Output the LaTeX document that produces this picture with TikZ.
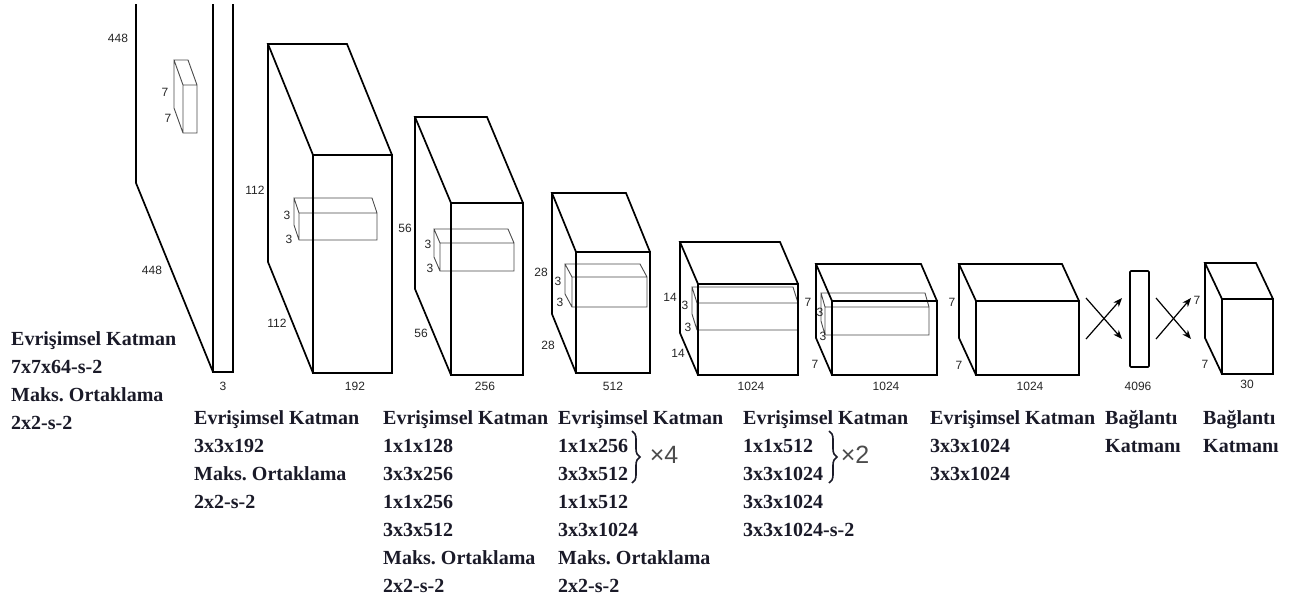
\documentclass[tikz,border=0pt]{standalone}
\usepackage{fontspec}
\setmainfont{Liberation Serif}
\newfontfamily\dimfont{Liberation Sans}
\usetikzlibrary{arrows.meta,decorations.pathreplacing}
\definecolor{ink}{HTML}{1A1A28}
\definecolor{kerngray}{HTML}{4A4A4A}
\tikzset{
  >={Stealth[length=9pt,width=7pt]},
  cube/.style={line width=1.7pt, line join=miter},
  kernel/.style={line width=.9pt, draw=kerngray},
  dimlabel/.style={font=\dimfont\fontsize{12}{12}\selectfont, inner sep=0pt, text=black!85},
  layertext/.style={font=\bfseries\fontsize{20}{28}\selectfont, align=left, anchor=north west, inner sep=0pt, text=ink},
  repeatbrace/.style={decorate, decoration={brace, amplitude=8pt}, line width=1.6pt, draw=ink},
  repeattext/.style={font=\dimfont\fontsize{25}{25}\selectfont, text=black!70, inner sep=0pt},
  fcarrow/.style={->, line width=1.2pt},
  fcbar/.style={draw, line width=1.7pt, rounded corners=1pt, minimum width=19pt, minimum height=96pt, inner sep=0pt}
}
\frenchspacing
% front face left, right, top, bottom, then depth to the back (up-left)
\newcommand{\boxthree}[7][cube]{%
  \draw[#1] (#2,#4) rectangle (#3,#5)
    (#2,#4) -- (#2-#6,#4-#7) -- (#3-#6,#4-#7) -- (#3,#4)
    (#2-#6,#4-#7) -- (#2-#6,#5-#7) -- (#2,#5);}

\begin{document}
\begin{tikzpicture}[x=1pt,y=-1pt]
  \useasboundingbox (0,0) rectangle (1301,605);
  \fill[white] (0,0) rectangle (1301,605);

  % kernels
  \boxthree[kernel]{183}{197}{85}{133}{9}{25}
  \boxthree[kernel]{299}{377}{213}{240}{5}{15}
  \boxthree[kernel]{440}{514}{243}{271}{6}{14}
  \boxthree[kernel]{572}{647}{277}{307}{7}{13}
  \boxthree[kernel]{697}{798}{303}{330}{5}{16}
  \boxthree[kernel]{825}{929}{307}{335}{4}{14}

  % layers
  \begin{scope}
    \clip (0,4) rectangle (1301,605);
    \boxthree{213}{233}{-2}{372}{77}{189}
  \end{scope}
  \boxthree{313}{392}{155}{373}{45}{111}
  \boxthree{451}{523}{203}{375}{36}{86}
  \boxthree{576}{650}{252}{373}{24}{59}
  \boxthree{698}{798}{284}{375}{18}{42}
  \boxthree{832}{937}{301}{375}{16}{37}
  \boxthree{976}{1079}{301}{375}{17}{37}
  \node[fcbar] (fc1) at (1139.5,319) {};
  \boxthree{1222}{1273}{299}{374}{17}{36}

  % fully connected arrows
  \coordinate (xa1) at (1086,339); \coordinate (xb1) at (1122,298);
  \coordinate (xa2) at (1086,298); \coordinate (xb2) at (1122,339);
  \coordinate (ya1) at (1156,339); \coordinate (yb1) at (1191,298);
  \coordinate (ya2) at (1156,298); \coordinate (yb2) at (1191,339);
  \draw[fcarrow] (xa1) -- (xb1);
  \draw[fcarrow] (xa2) -- (xb2);
  \draw[fcarrow] (ya1) -- (yb1);
  \draw[fcarrow] (ya2) -- (yb2);

  % sizes
  \foreach \t/\x/\y [count=\i] in {448/118/38, 448/152/270, 3/223/386, 7/165/92, 7/168/118,
      112/255/190, 112/277/323, 192/355/386, 3/287/215, 3/289/239,
      56/405/228, 56/421/333, 256/485/386, 3/428/244, 3/430/268,
      28/541/272, 28/548/345, 512/613/386, 3/558/281, 3/560/302,
      14/670/297, 14/678/353, 1024/751/386, 3/685/305, 3/688/327,
      7/808/302, 7/815/364, 1024/886/386, 3/820/312, 3/823/336,
      7/952/302, 7/959/365, 1024/1030/386, 4096/1138/386,
      7/1197/300, 7/1205/364, 30/1247/384}
    \node[dimlabel] (dim\i) at (\x,\y) {\t};

  % layer descriptions
  \node[layertext] (conv1) at (11,331) {Evrişimsel Katman\\7x7x64-s-2\\Maks. Ortaklama\\2x2-s-2};
  \node[layertext] (conv2) at (194,410) {Evrişimsel Katman\\3x3x192\\Maks. Ortaklama\\2x2-s-2};
  \node[layertext] (conv3) at (383,410) {Evrişimsel Katman\\1x1x128\\3x3x256\\1x1x256\\3x3x512\\Maks. Ortaklama\\2x2-s-2};
  \node[layertext] (conv4) at (558,410) {Evrişimsel Katman\\1x1x256\\3x3x512\\1x1x512\\3x3x1024\\Maks. Ortaklama\\2x2-s-2};
  \node[layertext] (conv5) at (743,410) {Evrişimsel Katman\\1x1x512\\3x3x1024\\3x3x1024\\3x3x1024-s-2};
  \node[layertext] (conv6) at (930,410) {Evrişimsel Katman\\3x3x1024\\3x3x1024};
  \node[layertext] (conn1) at (1105,410) {Bağlantı\\Katmanı};
  \node[layertext] (conn2) at (1203,410) {Bağlantı\\Katmanı};

  % repeats
  \draw[repeatbrace] (632,431) -- (632,483);
  \node[repeattext] (rep4) at (664,455) {×4};
  \draw[repeatbrace] (829,431) -- (829,483);
  \node[repeattext] (rep2) at (855,455) {×2};
\end{tikzpicture}
\end{document}
